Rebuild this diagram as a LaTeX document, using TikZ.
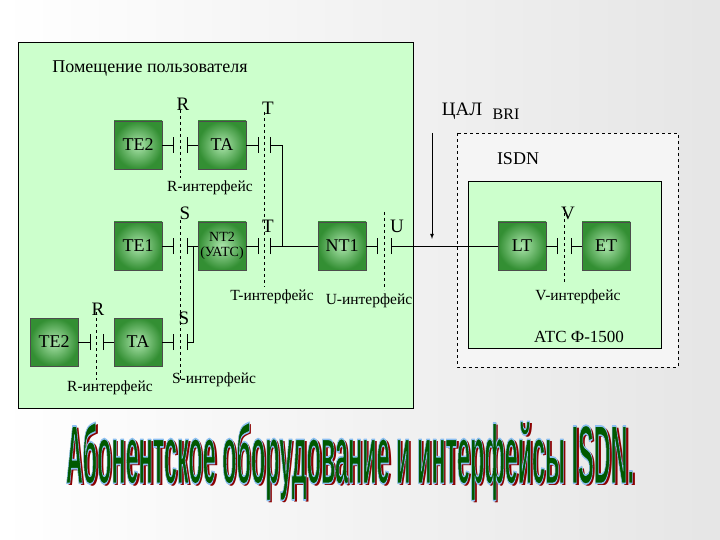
\documentclass[tikz,border=0pt]{standalone}
\usepackage{fontspec}
\setmainfont{Liberation Serif}
\newfontfamily\titlefont{Liberation Sans}
\begin{document}
\begin{tikzpicture}[x=1pt,y=-1pt,
  dev/.style={draw=black!70,minimum size=48pt,inner sep=0pt,shading=radial,inner color=green!25!white!90!black,outer color=green!45!black!80,font=\fontsize{18}{18}\selectfont},
  lbl/.style={font=\fontsize{19}{19}\selectfont,inner sep=0pt},
  ilbl/.style={font=\fontsize{15.5}{15.5}\selectfont,inner sep=0pt},
  dsh/.style={dashed,thin},
  ln/.style={thin},
  pl/.style={thin}]
\useasboundingbox (0,0) rectangle (720,540);
\shade[left color=white,right color=black!10] (0,0) rectangle (720,540);
\draw[fill=green!20!white,draw=black] (18,42) rectangle (413,408);
\draw[dashed,fill=black!4] (457,133) rectangle (678,367);
\draw[fill=green!20!white,draw=black] (468,181) rectangle (661,348);
% nodes
\node[dev] (te2a) at (138,145) {TE2};
\node[dev] (taa) at (222,145) {TA};
\node[dev] (te1) at (138,246) {TE1};
\node[dev,align=center,font=\fontsize{14}{15}\selectfont] (nt2) at (222,246) {NT2\\(УАТС)};
\node[dev] (nt1) at (342,246) {NT1};
\node[dev] (te2b) at (54,342) {TE2};
\node[dev] (tab) at (138,342) {TA};
\node[dev] (lt) at (522,246) {LT};
\node[dev] (et) at (606,246) {ET};
% dashed interface lines
\draw[dsh] (180,110) -- (180,178);
\draw[dsh] (264,112) -- (264,287);
\draw[dsh] (180,220) -- (180,380);
\draw[dsh] (384,212) -- (384,290);
\draw[dsh] (564,207) -- (564,283);
\draw[dsh] (96,312) -- (96,380);
% coordinates for plates
\coordinate (p1) at (173,145); \coordinate (p2) at (187,145);
\coordinate (p3) at (258,145); \coordinate (p4) at (270,145);
\coordinate (p5) at (173,246); \coordinate (p6) at (187,246);
\coordinate (p7) at (258,246); \coordinate (p8) at (270,246);
\coordinate (p9) at (377,246); \coordinate (p10) at (391,246);
\coordinate (p11) at (173,342); \coordinate (p12) at (187,342);
\coordinate (p13) at (90,342); \coordinate (p14) at (103,342);
\coordinate (p15) at (557,246); \coordinate (p16) at (571,246);
\foreach \p in {p1,p2,p3,p4,p5,p6,p7,p8,p9,p10,p11,p12,p13,p14,p15,p16}
  \draw[pl] ([yshift=-8pt]\p) -- ([yshift=8pt]\p);
\draw[ln] (te2a) -- (p1) (p2) -- (taa) (taa) -- (p3);
\draw[ln] (p4) -- (282,145) -- (282,246);
\draw[ln] (te1) -- (p5) (p6) -- (nt2) (nt2) -- (p7) (p8) -- (nt1) (nt1) -- (p9);
\draw[ln] (p10) -- (lt) (lt) -- (p15) (p16) -- (et);
\draw[ln] (te2b) -- (p13) (p14) -- (tab) (tab) -- (p11);
\draw[ln] (p12) -- (193,342) -- (193,246);
\coordinate (ar0) at (432,133); \coordinate (ar1) at (432,239);
\draw[thick,-latex] (ar0) -- (ar1);
% labels
\node[lbl] (t1) at (150,68) {\fontsize{18}{18}\selectfont Помещение пользователя};
\node[lbl] (t2) at (183,104) {R};
\node[lbl] (t3) at (268,108) {T};
\node[lbl] (t4) at (462,111) {ЦАЛ};
\node[lbl] (t5) at (506,114) {\fontsize{16}{16}\selectfont BRI};
\node[lbl] (t6) at (518,159) {\fontsize{18}{18}\selectfont ISDN};
\node[ilbl] (t7) at (210,188) {R-интерфейс};
\node[lbl] (t8) at (185,213) {S};
\node[lbl] (t9) at (268,226) {T};
\node[lbl] (t10) at (397,226) {U};
\node[lbl] (t11) at (568,213) {V};
\node[ilbl] (t12) at (272,297) {T-интерфейс};
\node[ilbl] (t13) at (369,301) {U-интерфейс};
\node[ilbl] (t14) at (578,297) {V-интерфейс};
\node[lbl] (t15) at (98,309) {R};
\node[lbl] (t16) at (184,318) {S};
\node[ilbl] (t17) at (214,380) {S-интерфейс};
\node[ilbl] (t18) at (110,388) {R-интерфейс};
\node[lbl] (t19) at (579,337) {\fontsize{17}{17}\selectfont АТС Ф-1500};
% title
\newcommand\ttxt{\resizebox{568pt}{62pt}{\titlefont\fontsize{80}{80}\selectfont\bfseries Абонентское оборудование и интерфейсы ISDN.}}
\node[inner sep=0pt,text=red!55!black] (tt0) at (352.5,463.5) {\ttxt};
\node[inner sep=0pt,text=green!35!black] (tt) at (350,461) {\special{pdf:code 0.55 0.75 0.95 RG 1.6 w 1 j 2 Tr}\ttxt\special{pdf:code 0 Tr}};
\end{tikzpicture}
\end{document}
